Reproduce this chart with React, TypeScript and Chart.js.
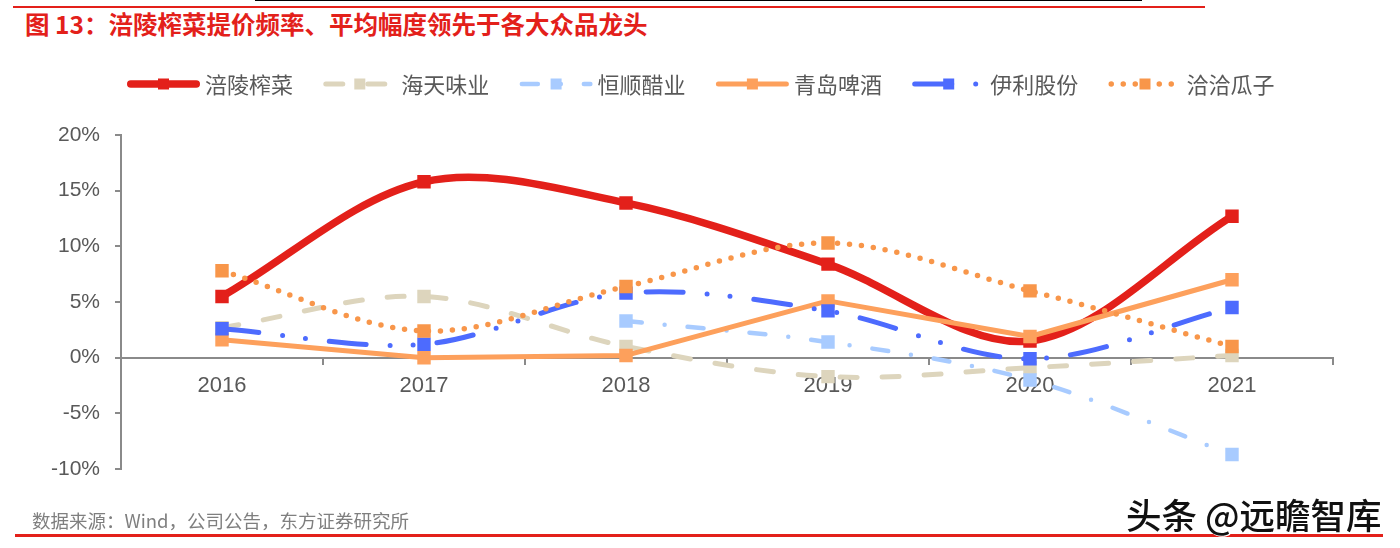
import React, { useEffect, useRef } from "react";
import { Chart, registerables } from "chart.js";

Chart.register(...registerables);

// ---- data ----
const categories = ["2016", "2017", "2018", "2019", "2020", "2021"];
const seriesNames = ["涪陵榨菜", "海天味业", "恒顺醋业", "青岛啤酒", "伊利股份", "洽洽瓜子"];
const fulingZhacai = [5.5, 15.8, 13.9, 8.4, 1.5, 12.7];
const haitianWeiye = [2.7, 5.5, 1.0, -1.7, -0.9, 0.2];
const hengshunCuye = [null, null, 3.3, 1.4, -2.0, -8.7];
const qingdaoPijiu = [1.6, 0.0, 0.2, 5.1, 1.9, 7.0];
const yiliGufen = [2.6, 1.2, 5.8, 4.2, -0.1, 4.5];
const qiaqiaGuazi = [7.8, 2.4, 6.4, 10.3, 6.0, 1.0];
const yMin = -10;
const yMax = 20;
const yStep = 5;

const titleText = "图 13：涪陵榨菜提价频率、平均幅度领先于各大众品龙头";
const sourceText = "数据来源：Wind，公司公告，东方证券研究所";
const watermarkText = "头条 @远瞻智库";

const AXIS_COLOR = "#8a8a8a";
const TEXT_COLOR = "#595959";
const RED = "#E3201A";

function makeSet(label: string, data: (number | null)[], color: string, width: number, dash: number[], tension: number, order: number) {
  return {
    label,
    data,
    borderColor: color,
    backgroundColor: color,
    borderWidth: width,
    borderDash: dash,
    borderCapStyle: "round",
    borderJoinStyle: "round",
    tension,
    cubicInterpolationMode: "default",
    pointStyle: "rect",
    pointRadius: 9.5,
    pointHoverRadius: 9.5,
    pointBackgroundColor: color,
    pointBorderColor: color,
    pointBorderWidth: 0,
    fill: false,
    spanGaps: false,
    order,
  };
}

const legendPlugin = {
  id: "customLegend",
  afterDraw(chart: any) {
    const ctx = chart.ctx;
    const y = 84;
    chart.data.datasets.forEach((ds: any, i: number) => {
      const x0 = 127 + i * 196.3;
      ctx.save();
      ctx.strokeStyle = ds.borderColor;
      ctx.lineWidth = ds.borderWidth;
      ctx.lineCap = "round";
      ctx.setLineDash(ds.borderDash || []);
      ctx.beginPath();
      ctx.moveTo(x0 + ds.borderWidth / 2, y);
      ctx.lineTo(x0 + 73 - ds.borderWidth / 2, y);
      ctx.stroke();
      ctx.setLineDash([]);
      ctx.fillStyle = ds.borderColor;
      ctx.fillRect(x0 + 36.5 - 5.5, y - 5.5, 11, 11);
      ctx.font = '22px "Noto Sans CJK SC"';
      ctx.fillStyle = TEXT_COLOR;
      ctx.textBaseline = "middle";
      ctx.textAlign = "left";
      ctx.fillText(ds.label, x0 + 78, y + 1);
      ctx.restore();
    });
  },
};

export default function App() {
  const ref = useRef<HTMLCanvasElement | null>(null);

  useEffect(() => {
    if (!ref.current) return;
    const yFont = { family: '"Liberation Sans", Arial, sans-serif', size: 21 };
    const xFont = { family: '"Liberation Sans", Arial, sans-serif', size: 22 };
    const chart = new Chart(ref.current, {
      type: "line",
      data: {
        labels: categories,
        datasets: [
          makeSet(seriesNames[0], fulingZhacai, RED, 7.5, [], 0.33, 6),
          makeSet(seriesNames[1], haitianWeiye, "#DDD5BD", 5, [17, 25], 0.33, 5),
          makeSet(seriesNames[2], hengshunCuye, "#A8CBFF", 4.5, [16, 23, 0, 23], 0.33, 4),
          makeSet(seriesNames[3], qingdaoPijiu, "#FDA05C", 5, [], 0, 3),
          makeSet(seriesNames[4], yiliGufen, "#4D6BFE", 5, [37, 24, 0, 23, 0, 24], 0.33, 2),
          makeSet(seriesNames[5], qiaqiaGuazi, "#F8964A", 5.5, [0, 12], 0.33, 1),
        ] as any,
      },
      options: {
        responsive: false,
        animation: false,
        events: [],
        layout: { padding: { left: 0, top: 135, right: 67, bottom: 79 } },
        plugins: {
          legend: { display: false },
          tooltip: { enabled: false },
          title: { display: false },
        },
        scales: {
          x: {
            type: "category",
            position: { y: 0 } as any,
            offset: true,
            grid: {
              display: true,
              drawOnChartArea: false,
              drawTicks: true,
              tickLength: 6,
              offset: true,
              color: AXIS_COLOR,
              lineWidth: 2,
            },
            border: { display: true, color: AXIS_COLOR, width: 2 },
            ticks: { color: TEXT_COLOR, font: xFont, padding: 9, maxRotation: 0, autoSkip: false },
          },
          y: {
            min: yMin,
            max: yMax,
            ticks: {
              stepSize: yStep,
              color: TEXT_COLOR,
              font: yFont,
              padding: 15,
              callback: (v: any) => `${v}%`,
            },
            grid: {
              display: true,
              drawOnChartArea: false,
              drawTicks: true,
              tickLength: 6,
              color: AXIS_COLOR,
              lineWidth: 2,
            },
            border: { display: true, color: AXIS_COLOR, width: 2 },
            afterFit: (s: any) => {
              s.width = 121;
            },
          },
        },
      },
      plugins: [legendPlugin],
    });
    return () => chart.destroy();
  }, []);

  return (
    <div style={{ position: "absolute", left: 0, top: 0, width: 1400, height: 548, background: "#fff", overflow: "hidden" }}>
      <div style={{ position: "absolute", left: 255, top: 0, width: 887, height: 1, background: "#000" }} />
      <div style={{ position: "absolute", left: 13, top: 6, width: 1192, height: 2, background: RED }} />
      <div
        style={{
          position: "absolute",
          left: 25,
          top: 9,
          height: 30,
          lineHeight: "30px",
          fontFamily: '"Noto Sans CJK SC", sans-serif',
          fontWeight: 700,
          fontSize: 24.5,
          color: RED,
          whiteSpace: "nowrap",
        }}
      >
        {titleText}
      </div>
      <canvas ref={ref} width={1400} height={548} style={{ position: "absolute", left: 0, top: 0, width: 1400, height: 548 }} />
      <div
        style={{
          position: "absolute",
          left: 32,
          top: 507,
          height: 26,
          lineHeight: "26px",
          fontFamily: '"Noto Sans CJK SC", sans-serif',
          fontSize: 18.5,
          color: "#7f7f7f",
          whiteSpace: "nowrap",
        }}
      >
        {sourceText}
      </div>
      <div style={{ position: "absolute", left: 15, top: 534, width: 1368, height: 3, background: RED }} />
      <div
        style={{
          position: "absolute",
          left: 1126,
          top: 493,
          height: 42,
          lineHeight: "42px",
          fontFamily: '"Noto Sans CJK SC", sans-serif',
          fontSize: 35.5,
          fontWeight: 500,
          color: "#111",
          whiteSpace: "nowrap",
          textShadow: "1px 1px 0 #fff, -1px -1px 0 #fff, 2px 0 0 #fff",
        }}
      >
        {watermarkText}
      </div>
    </div>
  );
}
